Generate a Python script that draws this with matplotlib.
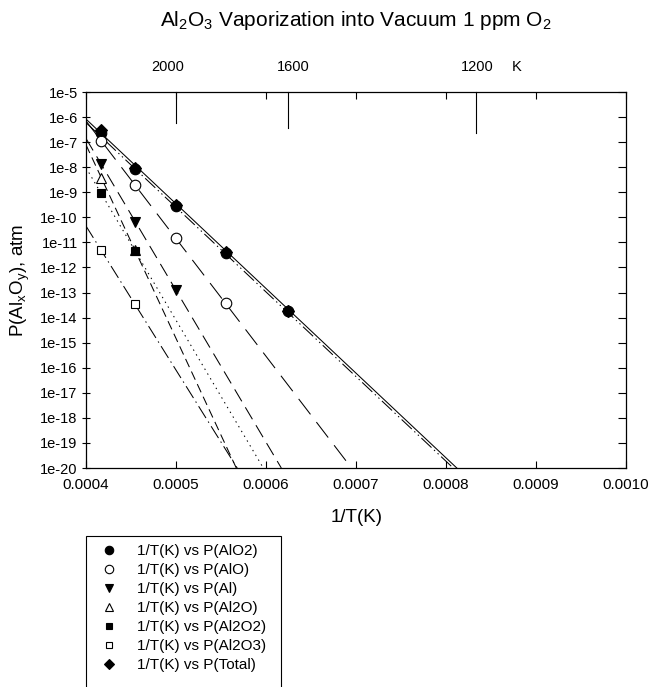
import numpy as np
import matplotlib
matplotlib.use("Agg")
import matplotlib.pyplot as plt
from matplotlib.patches import Rectangle

plt.rcParams["font.family"] = ["Liberation Sans", "DejaVu Sans"]
plt.rcParams["mathtext.fontset"] = "custom"
plt.rcParams["mathtext.rm"] = "Liberation Sans"
plt.rcParams["mathtext.it"] = "Liberation Sans:italic"
plt.rcParams["lines.scale_dashes"] = False

# measured vapour pressures (atm) at each temperature
temps = [2400, 2200, 2000, 1800, 1600]
p_alo2 = [2.3e-7, 8.5e-9, 2.9e-10, 3.9e-12, 1.8e-14]
p_alo = [1.15e-7, 1.95e-9, 1.55e-11, 4.0e-14]
p_al = [1.4e-8, 6.7e-11, 1.25e-13]
p_al2o = [3.8e-9, 4.8e-12]
p_al2o2 = [9.0e-10, 4.7e-12]
p_al2o3 = [5.0e-12, 3.5e-14]
p_total = [3.0e-7, 9.5e-9, 3.0e-10, 4.0e-12, 1.8e-14]

# fitted lines: 1/T at the ends and pressure at the ends
fit_total_x = [0.0004, 0.000812]
fit_total_p = [8.3e-7, 1e-20]
fit_alo2_x = [0.0004, 0.000808]
fit_alo2_p = [6.0e-7, 1e-20]
fit_alo_x = [0.0004, 0.000695]
fit_alo_p = [7.0e-7, 1e-20]
fit_al_x = [0.0004, 0.000617]
fit_al_p = [1.4e-7, 1e-20]
fit_al2o_x = [0.0004, 0.000567]
fit_al2o_p = [7.8e-8, 1e-20]
fit_al2o2_x = [0.0004, 0.000597]
fit_al2o2_p = [9.5e-9, 1e-20]
fit_al2o3_x = [0.0004, 0.000568]
fit_al2o3_p = [4.5e-11, 1e-20]

# temperature scale along the top
top_temps = [2000, 1600, 1200]
top_tick_low = [5.9e-7, 3.7e-7, 2.3e-7]

inv_t = 1.0 / np.array(temps, dtype=float)

W, H = 649, 687
fig = plt.figure(figsize=(W / 100, H / 100), dpi=100)
ax = fig.add_axes([86 / W, 1 - 468 / H, 540 / W, 376 / H])

lw = 0.75
line_specs = [
    (fit_alo2_x, fit_alo2_p, (0, (10, 2.5, 1, 2.5, 1, 2.5))),
    (fit_alo_x, fit_alo_p, (0, (14, 7))),
    (fit_al_x, fit_al_p, (0, (10, 5))),
    (fit_al2o_x, fit_al2o_p, (0, (6.5, 3.5))),
    (fit_al2o2_x, fit_al2o2_p, (0, (1, 3))),
    (fit_al2o3_x, fit_al2o3_p, (0, (10, 3, 1, 3))),
    (fit_total_x, fit_total_p, "-"),
]
for fx_, fp, ls in line_specs:
    ax.plot(fx_, fp, color="black", lw=lw, linestyle=ls, zorder=2)

ms = 7.6
series = [
    (p_alo2, "o", "black", ms, "1/T(K) vs P(AlO2)"),
    (p_alo, "o", "white", ms, "1/T(K) vs P(AlO)"),
    (p_al, "v", "black", ms, "1/T(K) vs P(Al)"),
    (p_al2o, "^", "white", ms, "1/T(K) vs P(Al2O)"),
    (p_al2o2, "s", "black", 6.2, "1/T(K) vs P(Al2O2)"),
    (p_al2o3, "s", "white", 6.2, "1/T(K) vs P(Al2O3)"),
    (p_total, "D", "black", 6.6, "1/T(K) vs P(Total)"),
]
handles = []
for vals, mk, fc, size, lab in series:
    h, = ax.plot(inv_t[:len(vals)], vals, linestyle="none", marker=mk,
                 markersize=size, markerfacecolor=fc, markeredgecolor="black",
                 markeredgewidth=0.8, label=lab, zorder=3)
    handles.append(h)

ax.set_yscale("log")
ax.set_xlim(0.0004, 0.0010)
ax.set_ylim(1e-20, 1e-5)

xt = np.arange(4, 11) * 0.0001
ax.set_xticks(xt)
ax.set_xticklabels([f"{v:.4f}" for v in xt])
yt = [10.0 ** k for k in range(-20, -4)]
ax.set_yticks(yt)
ax.set_yticklabels([f"1e{k}" for k in range(-20, -4)])
ax.minorticks_off()

ax.tick_params(axis="x", direction="in", length=5, width=0.8, top=True,
               labelsize=11, pad=7)
ax.tick_params(axis="y", direction="in", length=6, width=0.8, right=True,
               labelsize=10.5, pad=6)
for t in ax.yaxis.get_major_ticks():
    t.tick1line.set_marker("_")
    t.tick1line.set_markersize(6)

for s in ax.spines.values():
    s.set_linewidth(0.9)

# long marks for the temperature scale
for T, lo in zip(top_temps, top_tick_low):
    ax.plot([1.0 / T, 1.0 / T], [1e-5, lo], color="black", lw=0.8,
            clip_on=False, zorder=4)

def fx(px):
    return px / W

def fy(py):
    return 1 - py / H

fs_top = 10.5
fig.text(fx(168), fy(67), "2000", ha="center", va="center", fontsize=fs_top)
fig.text(fx(293), fy(67), "1600", ha="center", va="center", fontsize=fs_top)
fig.text(fx(477), fy(67), "1200", ha="center", va="center", fontsize=fs_top)
fig.text(fx(517), fy(67), "K", ha="center", va="center", fontsize=fs_top)

fig.text(fx(356), fy(21), r"Al$_2$O$_3$ Vaporization into Vacuum 1 ppm O$_2$",
         ha="center", va="center", fontsize=15)
fig.text(fx(357), fy(517), "1/T(K)", ha="center", va="center", fontsize=13.5)
fig.text(fx(20), fy(280), r"P(Al$_\mathrm{x}$O$_\mathrm{y}$), atm",
         ha="center", va="center", rotation=90, fontsize=13.5)

# legend box runs off the bottom of the figure
fig.patches.append(Rectangle((fx(86), -0.02), fx(281) - fx(86), fy(536) + 0.02,
                             transform=fig.transFigure, fill=False,
                             edgecolor="black", lw=0.8))
leg = fig.legend(handles=handles, loc="upper left",
                 bbox_to_anchor=(fx(97), fy(544)), frameon=False,
                 fontsize=11, markerscale=0.8, handlelength=1.6,
                 handletextpad=1.0, labelspacing=0.33, borderpad=0,
                 borderaxespad=0)

fig.savefig("out.png", dpi=100)
